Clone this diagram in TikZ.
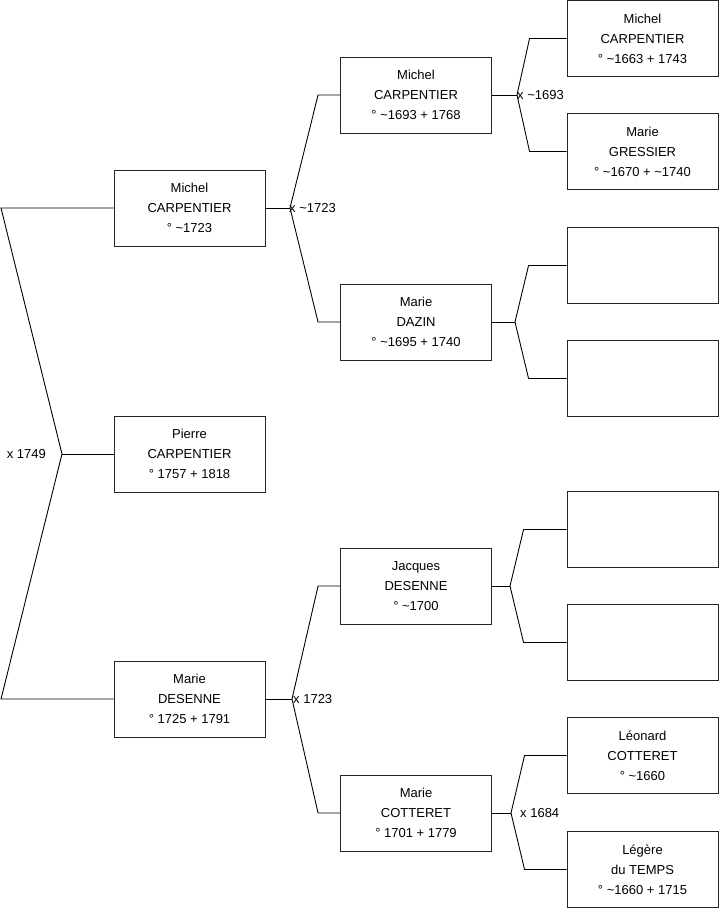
\documentclass[tikz,border=0pt]{standalone}
\usepackage{fontspec}
\setmainfont{Liberation Sans}
\usepackage{tikz}

\begin{document}
\begin{tikzpicture}[
    x=1pt, y=-1pt,
    person/.style={draw=black!85, line width=0.9pt, minimum width=151pt, minimum height=76pt, inner sep=0pt, align=center, font=\fontsize{13}{20}\selectfont},
    link/.style={line width=0.9pt},
    union/.style={font=\fontsize{13}{16}\selectfont, inner sep=0pt}
]
\useasboundingbox (0,0) rectangle (719,908);

% generation 1 and 2
\node[person] (pierre) at (189.5, 454) {Pierre\\CARPENTIER\\° 1757 + 1818};
\node[person] (michel) at (189.5, 208) {Michel\\CARPENTIER\\° \textasciitilde1723};
\node[person] (marie) at (189.5, 699) {Marie\\DESENNE\\° 1725 + 1791};

% generation 3
\node[person] (michelb) at (416, 95) {Michel\\CARPENTIER\\° \textasciitilde1693 + 1768};
\node[person] (dazin) at (416, 322) {Marie\\DAZIN\\° \textasciitilde1695 + 1740};
\node[person] (jacques) at (416, 586) {Jacques\\DESENNE\\° \textasciitilde1700};
\node[person] (cotteret) at (416, 813) {Marie\\COTTERET\\° 1701 + 1779};

% generation 4
\node[person] (michelc) at (642.5, 38.5) {Michel\\CARPENTIER\\° \textasciitilde1663 + 1743};
\node[person] (gressier) at (642.5, 151.5) {Marie\\GRESSIER\\° \textasciitilde1670 + \textasciitilde1740};
\node[person] (empa) at (642.5, 265.5) {};
\node[person] (empb) at (642.5, 378.5) {};
\node[person] (empc) at (642.5, 529.5) {};
\node[person] (empd) at (642.5, 642.5) {};
\node[person] (leonard) at (642.5, 755.5) {Léonard\\COTTERET\\° \textasciitilde1660};
\node[person] (legere) at (642.5, 869.5) {Légère\\du TEMPS\\° \textasciitilde1660 + 1715};

% forks
\coordinate (f0) at (62, 454);
\coordinate (f0a) at (1, 208);
\coordinate (f0b) at (1, 699);
\coordinate (f1) at (290, 208);
\coordinate (f2) at (292, 699);
\coordinate (f3) at (517, 95);
\coordinate (f4) at (515, 322);
\coordinate (f5) at (510, 586);
\coordinate (f6) at (511, 813);

\draw[link] (michel.west) -- (f0a) -- (f0) -- (f0b) -- (marie.west);
\draw[link] (f0) -- (pierre.west);
\node[union, anchor=east] at ([xshift=-16pt]f0) {x 1749};

\draw[link] (michel.east) -- (f1);
\draw[link] (michelb.west) -- ++(-22,0) -- (f1) -- ([xshift=-22pt]dazin.west) -- (dazin.west);
\node[union, anchor=west] at ([xshift=-1pt]f1) {x \textasciitilde1723};

\draw[link] (marie.east) -- (f2);
\draw[link] (jacques.west) -- ++(-22,0) -- (f2) -- ([xshift=-22pt]cotteret.west) -- (cotteret.west);
\node[union, anchor=west] at ([xshift=1pt]f2) {x 1723};

\draw[link] (michelb.east) -- (f3);
\draw[link] (michelc.west) -- ++(-37,0) -- (f3) -- ([xshift=-37pt]gressier.west) -- (gressier.west);
\node[union, anchor=west] at ([xshift=0pt]f3) {x \textasciitilde1693};

\draw[link] (dazin.east) -- (f4);
\draw[link] (empa.west) -- ++(-38,0) -- (f4) -- ([xshift=-38pt]empb.west) -- (empb.west);

\draw[link] (jacques.east) -- (f5);
\draw[link] (empc.west) -- ++(-43,0) -- (f5) -- ([xshift=-43pt]empd.west) -- (empd.west);

\draw[link] (cotteret.east) -- (f6);
\draw[link] (leonard.west) -- ++(-42,0) -- (f6) -- ([xshift=-42pt]legere.west) -- (legere.west);
\node[union, anchor=west] at ([xshift=9pt]f6) {x 1684};
\end{tikzpicture}
\end{document}
